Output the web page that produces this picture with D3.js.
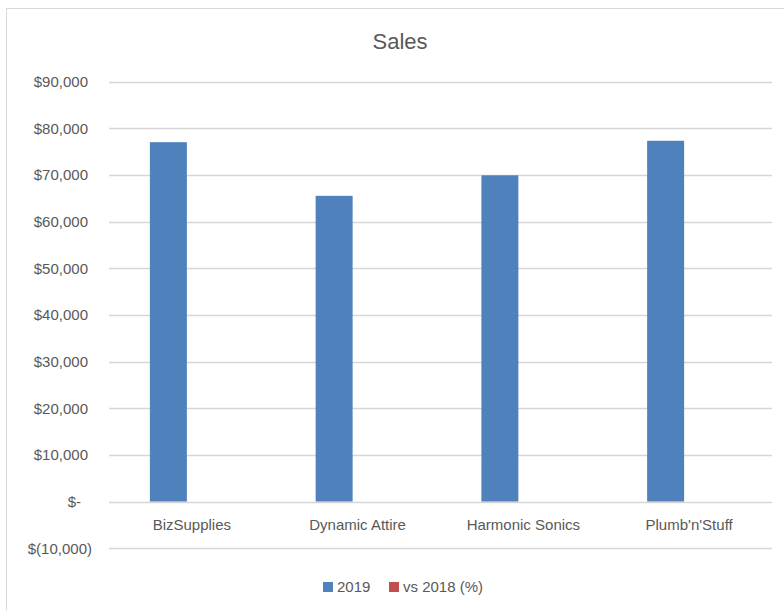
<!DOCTYPE html>
<html>
<head>
<meta charset="utf-8">
<script src="https://cdn.jsdelivr.net/npm/d3@7"></script>
<style>
  html, body { margin: 0; padding: 0; background: #fff; }
  svg { display: block; }
  text { font-family: "Liberation Sans", Arial, sans-serif; fill: #595959; }
</style>
</head>
<body>
<svg id="chart" width="784" height="610"></svg>
<script>
// ---- data ----
const title = "Sales";
const categories = ["BizSupplies", "Dynamic Attire", "Harmonic Sonics", "Plumb'n'Stuff"];
const seriesNames = ["2019", "vs 2018 (%)"];
const sales2019 = [77000, 65500, 69900, 77300];
const vs2018 = [0.12, 0.05, 0.08, 0.15];
const yTicks = [-10000, 0, 10000, 20000, 30000, 40000, 50000, 60000, 70000, 80000, 90000];
const colors = ["#4F81BD", "#C0504D"];

// ---- layout ----
const svg = d3.select("#chart");
const plot = { left: 109, right: 772, top: 81.5, bottom: 548.2 };

svg.append("rect")
  .attr("x", 6.5).attr("y", 8.5)
  .attr("width", 820).attr("height", 640)
  .attr("fill", "#fff").attr("stroke", "#d9d9d9").attr("stroke-width", 1);

const y = d3.scaleLinear().domain([-10000, 90000]).range([plot.bottom, plot.top]);
const x0 = d3.scaleBand().domain(categories).range([plot.left, plot.right]).padding(0);
const x1 = d3.scaleBand().domain(seriesNames).range([0, x0.bandwidth()])
  .paddingInner(0.213).paddingOuter(0.87);

// title
svg.append("text")
  .attr("x", 400).attr("y", 49)
  .attr("text-anchor", "middle")
  .style("font-size", "22px")
  .text(title);

// gridlines
svg.append("g").selectAll("line").data(yTicks).join("line")
  .attr("x1", plot.left).attr("x2", plot.right)
  .attr("y1", d => Math.round(y(d)) + 0.5).attr("y2", d => Math.round(y(d)) + 0.5)
  .attr("stroke", "#d6d6d6").attr("stroke-width", 1.4);

// y labels (accounting format)
const fmt = d3.format(",");
function label(d) {
  if (d === 0) return "$-";
  if (d < 0) return "$(" + fmt(-d) + ")";
  return "$" + fmt(d);
}
svg.append("g").selectAll("text").data(yTicks).join("text")
  .attr("x", d => d < 0 ? 92 : (d === 0 ? 81 : 88))
  .attr("y", d => y(d) + 5.5)
  .attr("text-anchor", "end")
  .style("font-size", "15px")
  .text(label);

// bars
const rows = categories.map((c, i) => ({ cat: c, values: [sales2019[i], vs2018[i]] }));
const groups = svg.append("g").selectAll("g").data(rows).join("g")
  .attr("transform", d => `translate(${x0(d.cat)},0)`);
groups.selectAll("rect")
  .data(d => d.values.map((v, j) => ({ name: seriesNames[j], v, j })))
  .join("rect")
  .attr("x", d => x1(d.name))
  .attr("width", x1.bandwidth())
  .attr("y", d => Math.min(y(d.v), y(0)))
  .attr("height", d => Math.abs(y(d.v) - y(0)))
  .attr("fill", d => colors[d.j]);

// category labels
svg.append("g").selectAll("text").data(categories).join("text")
  .attr("x", d => x0(d) + x0.bandwidth() / 2)
  .attr("y", 530)
  .attr("text-anchor", "middle")
  .style("font-size", "15px")
  .text(d => d);

// legend
const legendX = [323, 389];
const lg = svg.append("g").selectAll("g").data(seriesNames).join("g")
  .attr("transform", (d, i) => `translate(${legendX[i]},582)`);
lg.append("rect").attr("width", 10).attr("height", 10).attr("fill", (d, i) => colors[i]);
lg.append("text").attr("x", 14).attr("y", 10).style("font-size", "15px").text(d => d);
</script>
</body>
</html>
